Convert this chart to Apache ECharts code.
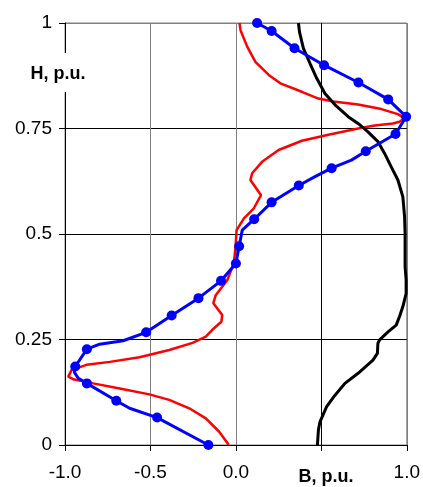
<!DOCTYPE html>
<html>
<head>
<meta charset="utf-8">
<script src="https://cdn.jsdelivr.net/npm/echarts@6/dist/echarts.min.js"></script>
<style>
  html, body { margin: 0; padding: 0; background: #fff; }
  #chart { width: 423px; height: 487px; }
</style>
</head>
<body>
<div id="chart"></div>
<script>
(() => {
  // the 0.5 slot is taken by the axis title in the original
  const xTickLabels = ['-1.0', '-0.5', '0.0', '', '1.0'];
  const yTickLabels = ['0', '0.25', '0.5', '0.75', '1'];

  // blue curve, marked points have a dot
  const blueB = [0.124, 0.209, 0.343, 0.516, 0.717, 0.891, 0.996, 0.934, 0.760, 0.676, 0.560, 0.463,
    0.368, 0.209, 0.107, 0.037, 0.019, 0.0, -0.087, -0.219, -0.376, -0.525, -0.660, -0.797, -0.872,
    -0.940, -0.945, -0.922, -0.872, -0.700, -0.622, -0.461, -0.161];
  const blueH = [1.0, 0.981, 0.940, 0.900, 0.859, 0.819, 0.778, 0.737, 0.696, 0.675, 0.656, 0.636,
    0.615, 0.575, 0.535, 0.509, 0.471, 0.430, 0.389, 0.348, 0.307, 0.267, 0.247, 0.239, 0.227,
    0.186, 0.172, 0.158, 0.146, 0.105, 0.087, 0.065, 0.0];
  const blueMarked = [1, 1, 1, 1, 1, 1, 1, 1, 1, 0, 1, 0,
    1, 1, 1, 0, 1, 1, 1, 1, 1, 1, 0, 0, 1,
    1, 0, 0, 1, 1, 0, 1, 1];

  const redB = [0.021, 0.027, 0.066, 0.114, 0.192, 0.260, 0.386, 0.483, 0.570, 0.715, 0.851, 0.948,
    0.987, 0.957, 0.919, 0.812, 0.715, 0.541, 0.386, 0.250, 0.153, 0.095, 0.085, 0.147, 0.105,
    0.047, 0.004, -0.002, -0.012, -0.050, -0.118, -0.132, -0.080, -0.085, -0.138, -0.176, -0.254,
    -0.390, -0.564, -0.738, -0.874, -0.961, -0.981, -0.952, -0.835, -0.680, -0.506, -0.390, -0.273,
    -0.176, -0.099, -0.041];
  const redH = [1.0, 0.983, 0.944, 0.908, 0.877, 0.857, 0.837, 0.821, 0.814, 0.807, 0.796, 0.784,
    0.774, 0.766, 0.762, 0.757, 0.750, 0.735, 0.721, 0.699, 0.671, 0.644, 0.628, 0.592, 0.561,
    0.537, 0.509, 0.470, 0.431, 0.391, 0.355, 0.336, 0.308, 0.292, 0.273, 0.257, 0.242,
    0.225, 0.208, 0.197, 0.190, 0.178, 0.162, 0.156, 0.146, 0.134, 0.120, 0.107, 0.087,
    0.063, 0.032, 0.0];

  const blackB = [0.366, 0.372, 0.395, 0.434, 0.473, 0.521, 0.580, 0.657, 0.715, 0.773, 0.831, 0.870,
    0.909, 0.948, 0.977, 0.987, 0.990, 0.990, 0.996, 0.996, 0.977, 0.957, 0.938, 0.890, 0.841,
    0.831, 0.828, 0.802, 0.715, 0.638, 0.580, 0.531, 0.492, 0.483, 0.477];
  const blackH = [1.0, 0.979, 0.940, 0.904, 0.869, 0.833, 0.806, 0.778, 0.762, 0.742, 0.719, 0.691,
    0.659, 0.628, 0.588, 0.541, 0.502, 0.423, 0.391, 0.359, 0.328, 0.304, 0.284, 0.268, 0.249,
    0.241, 0.217, 0.201, 0.170, 0.146, 0.118, 0.091, 0.055, 0.036, 0.0];

  const pairs = (xs, ys) => xs.map((x, i) => [x, ys[i]]);
  const font = 'Liberation Sans, Arial, sans-serif';

  let myChart = echarts.init(document.getElementById('chart'));

  let option = {
    animation: false,
    backgroundColor: '#fff',
    grid: {
      left: 65, right: 14, top: 23, bottom: 42,
      show: true, borderColor: '#808080', borderWidth: 1, backgroundColor: 'transparent'
    },
    xAxis: {
      type: 'value', min: -1, max: 1, interval: 0.5,
      axisLine: { show: true, onZero: false, lineStyle: { color: '#000', width: 1 } },
      axisTick: { show: true, length: 6, lineStyle: { color: '#000' } },
      axisLabel: {
        margin: 18, fontSize: 19, color: '#000', fontFamily: font,
        formatter: (v) => xTickLabels[Math.round((v + 1) / 0.5)]
      },
      splitLine: { show: true, lineStyle: { color: ['#000', '#808080', '#808080', '#000', '#808080'], width: 1 } }
    },
    yAxis: {
      type: 'value', min: 0, max: 1, interval: 0.25,
      axisLine: { show: true, onZero: false, lineStyle: { color: '#000', width: 1 } },
      axisTick: { show: true, length: 6, lineStyle: { color: '#000' } },
      axisLabel: {
        margin: 13, fontSize: 19, color: '#000', fontFamily: font,
        formatter: (v) => yTickLabels[Math.round(v / 0.25)]
      },
      splitLine: { show: true, lineStyle: { color: ['#000', '#000', '#000', '#000', '#808080'], width: 1 } }
    },
    graphic: [
      { type: 'rect', z: 100, shape: { x: 58, y: 53, width: 14, height: 39 }, style: { fill: '#fff' } },
      {
        type: 'text', z: 101, x: 58, y: 74,
        style: { text: 'H, p.u.', fill: '#000', font: 'bold 18px ' + font, textAlign: 'center', textVerticalAlign: 'middle' }
      },
      {
        type: 'text', z: 101, x: 326, y: 477,
        style: { text: 'B, p.u.', fill: '#000', font: 'bold 18px ' + font, textAlign: 'center', textVerticalAlign: 'middle' }
      }
    ],
    series: [
      {
        type: 'line', data: pairs(redB, redH), symbol: 'none', clip: false,
        lineStyle: { color: '#ff0000', width: 2.5 }
      },
      {
        type: 'line', data: pairs(blackB, blackH), symbol: 'none', clip: false,
        lineStyle: { color: '#000', width: 3 }
      },
      {
        type: 'line', clip: false, symbolSize: 10, showAllSymbol: true,
        data: pairs(blueB, blueH).map((p, i) => ({ value: p, symbol: blueMarked[i] ? 'circle' : 'none' })),
        itemStyle: { color: '#0000ff' },
        lineStyle: { color: '#0000ff', width: 3 }
      }
    ]
  };

  myChart.setOption(option);
})();
</script>
</body>
</html>
